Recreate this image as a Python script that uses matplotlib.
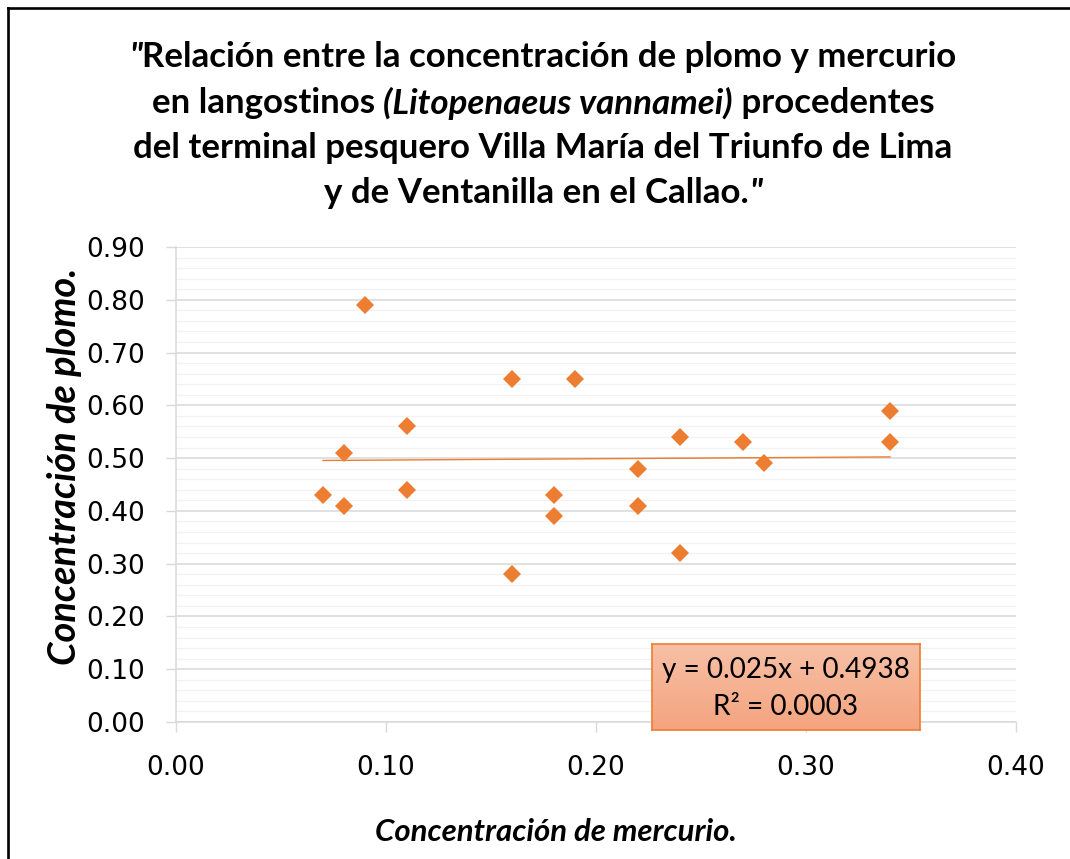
import numpy as np
import matplotlib
matplotlib.use("Agg")
import matplotlib.pyplot as plt
from matplotlib.ticker import MultipleLocator, FormatStrFormatter
from matplotlib.lines import Line2D

# ---------------- data ----------------
mercurio = [0.07, 0.08, 0.08, 0.09, 0.11, 0.11, 0.16, 0.16, 0.18, 0.18,
            0.19, 0.22, 0.22, 0.24, 0.24, 0.27, 0.28, 0.34, 0.34]
plomo = [0.43, 0.51, 0.41, 0.79, 0.56, 0.44, 0.65, 0.28, 0.43, 0.39,
         0.65, 0.48, 0.41, 0.54, 0.32, 0.53, 0.49, 0.59, 0.53]
trend_slope = 0.025
trend_intercept = 0.4938
trend_r2 = 0.0003
x_ticks = [0.00, 0.10, 0.20, 0.30, 0.40]
y_ticks = [0.00, 0.10, 0.20, 0.30, 0.40, 0.50, 0.60, 0.70, 0.80, 0.90]

title_lines = [
    [('"', "italic"), ("Relación entre la concentración de plomo y mercurio", "normal")],
    [("en langostinos ", "normal"), ("(Litopenaeus vannamei)", "italic"), (" procedentes", "normal")],
    [("del terminal pesquero Villa María del Triunfo de Lima", "normal")],
    [("y de Ventanilla en el Callao.", "normal"), ('"', "italic")],
]
x_label = "Concentración de mercurio."
y_label = "Concentración de plomo."

ORANGE = "#ED7D31"
FONT = "Lato"

# ---------------- figure ----------------
W, H = 1070, 859
fig = plt.figure(figsize=(W / 100, H / 100), dpi=100)
fig.patch.set_facecolor("white")
r = fig.canvas.get_renderer()


def fx(px):
    return px / W


def fy(py):
    return 1 - py / H


ax = fig.add_axes([fx(176), fy(722), (1016 - 176) / W, (722 - 247) / H])
ax.set_xlim(x_ticks[0], x_ticks[-1])
ax.set_ylim(y_ticks[0], y_ticks[-1])
ax.set_xticks(x_ticks)
ax.set_yticks(y_ticks)
ax.yaxis.set_minor_locator(MultipleLocator(0.02))
ax.xaxis.set_major_formatter(FormatStrFormatter("%.2f"))
ax.yaxis.set_major_formatter(FormatStrFormatter("%.2f"))
for s in ["top", "right"]:
    ax.spines[s].set_visible(False)
for s in ["left", "bottom"]:
    ax.spines[s].set_color("#D9D9D9")
    ax.spines[s].set_linewidth(1.1)
ax.grid(which="major", axis="y", color="#D9D9D9", lw=1.1)
ax.grid(which="minor", axis="y", color="#F2F2F2", lw=0.9)
ax.set_axisbelow(True)
ax.tick_params(which="major", length=7.5, width=1.0, color="#D9D9D9",
               labelsize=19, labelcolor="black")
ax.tick_params(axis="y", which="major", pad=15)
ax.tick_params(axis="x", which="major", pad=16)
ax.tick_params(which="minor", length=0)
for lab in ax.get_xticklabels() + ax.get_yticklabels():
    lab.set_fontfamily("DejaVu Sans")

# scatter points
ax.plot(mercurio, plomo, linestyle="none", marker="D", ms=9.0, mew=0,
        color=ORANGE, zorder=4, clip_on=False)

# linear trend line over data range
tx = np.array([min(mercurio), max(mercurio)])
ax.plot(tx, trend_slope * tx + trend_intercept, color=ORANGE, lw=1.0, zorder=3)


# ---------------- text helpers ----------------
def fit(t, target_px):
    w = t.get_window_extent(r).width
    t.set_fontsize(t.get_fontsize() * target_px / w)


def compose_line(segments, cx, cy, size):
    texts = []
    for txt, style in segments:
        t = fig.text(0, fy(cy), txt, fontsize=size, fontfamily=FONT,
                     fontweight="bold", fontstyle=style, va="center", ha="left")
        texts.append(t)
    widths = [t.get_window_extent(r).width for t in texts]
    total = sum(widths)
    x = cx - total / 2
    for t, w in zip(texts, widths):
        t.set_x(fx(x))
        x += w
    return texts


# title: fit size on first line
probe = fig.text(0, 0, "".join(s for s, _ in title_lines[0]), fontsize=20,
                 fontfamily=FONT, fontweight="bold")
fit(probe, 829)
tsize = probe.get_fontsize()
probe.remove()

line_y = [57, 103, 148, 193]
for segs, ly in zip(title_lines, line_y):
    compose_line(segs, 543, ly, tsize)

# axis labels
yl = fig.text(fx(65), fy(466), y_label, rotation=90, fontsize=20, fontfamily=FONT,
              fontweight="bold", fontstyle="italic", ha="center", va="center")
fit(yl, 397) if False else None
w = yl.get_window_extent(r).height
yl.set_fontsize(yl.get_fontsize() * 397 / w)

xl = fig.text(fx(556), fy(832), x_label, fontsize=20, fontfamily=FONT,
              fontweight="bold", fontstyle="italic", ha="center", va="center")
fit(xl, 362)

# equation box (gradient fill)
bx = fig.add_axes([fx(652), fy(730), (920 - 652) / W, (730 - 644) / H], zorder=5)
grad = np.linspace(0, 1, 100).reshape(-1, 1)
top = np.array(matplotlib.colors.to_rgb("#F7C0A6"))
bot = np.array(matplotlib.colors.to_rgb("#F4A47F"))
img = top[None, None, :] * (1 - grad[:, :, None]) + bot[None, None, :] * grad[:, :, None]
bx.imshow(img, aspect="auto", extent=[0, 1, 0, 1], origin="upper")
bx.set_xlim(0, 1)
bx.set_ylim(0, 1)
bx.set_xticks([])
bx.set_yticks([])
for s in bx.spines.values():
    s.set_color(ORANGE)
    s.set_linewidth(1.2)
eq1 = bx.text(0.5, 0.70, f"y = {trend_slope:.3f}x + {trend_intercept:.4f}",
              ha="center", va="center", fontfamily=FONT, fontsize=20, color="black")
fit(eq1, 248)
bx.text(0.5, 0.27, f"R² = {trend_r2:.4f}", ha="center", va="center",
        fontfamily=FONT, fontsize=eq1.get_fontsize(), color="black")

# outer frame (left and top visible)
fig.add_artist(Line2D([fx(7.5), fx(7.5)], [0, fy(7.5)], transform=fig.transFigure,
                      color="black", lw=1.9))
fig.add_artist(Line2D([fx(7.5), 1], [fy(7.5), fy(7.5)], transform=fig.transFigure,
                      color="black", lw=1.9))

fig.savefig("out.png", dpi=100)
